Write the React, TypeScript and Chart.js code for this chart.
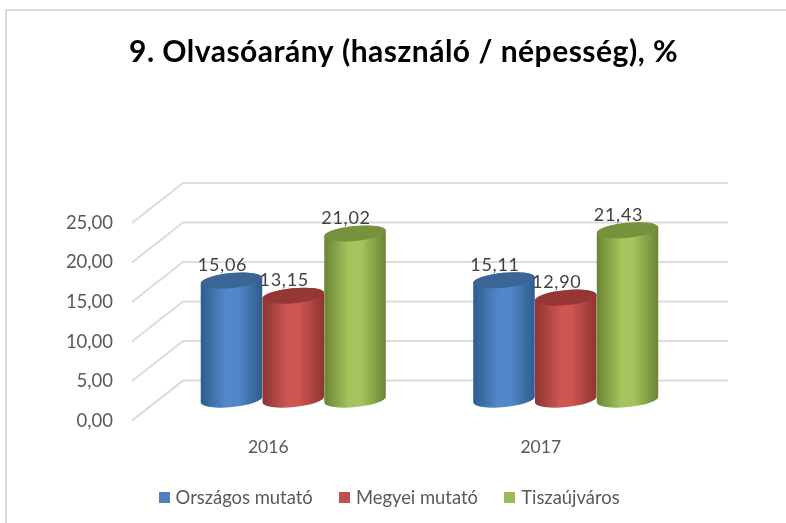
import React, { useEffect, useRef } from "react";
import { Chart, registerables } from "chart.js";

Chart.register(...registerables);

const TITLE = "9. Olvasóarány (használó / népesség), %";
const CATEGORIES = ["2016", "2017"];
const COUNTRY = [15.06, 15.11];
const COUNTY = [13.15, 12.9];
const TOWN = [21.02, 21.43];
const SERIES_NAMES = ["Országos mutató", "Megyei mutató", "Tiszaújváros"];
const SERIES_COLORS = ["#4f81bd", "#c0504d", "#9bbb59"];
const EDGE_COLORS = ["#2f5b8e", "#8c3432", "#6a8433"];
const MID_COLORS = ["#5288ca", "#cd5552", "#a3c55e"];
const TOP_COLORS = ["#3a6595", "#943736", "#76923c"];
const Y_MAX = 25;
const Y_STEP = 5;
const FONT = "Lato, Carlito, Calibri, sans-serif";
const DEPTH_X = 51;
const DEPTH_Y = 40;
const BAR_SHIFT_X = 25;
const BAR_SHIFT_Y = 21;
const TILT = (-5.5 * Math.PI) / 180;
const RY = 7.5;

const fmt = (v: number) => v.toFixed(2).replace(".", ",");

const marker = (color: string) => {
  const c = document.createElement("canvas");
  c.width = 11;
  c.height = 11;
  const g = c.getContext("2d");
  if (g) {
    g.fillStyle = color;
    g.fillRect(0, 0, 11, 11);
  }
  return c;
};

const cylinderPlugin = {
  id: "cylinders",
  afterLayout(chart: any) {
    const lg = chart.legend;
    if (lg) {
      lg.left -= 2;
      lg.right -= 2;
      lg.top -= 6;
      lg.bottom -= 6;
    }
    const tb = chart.titleBlock;
    if (tb) {
      tb.left += 10.5;
      tb.right += 10.5;
      if (!tb.__wrapped) {
        tb.__wrapped = true;
        const d = tb.draw;
        tb.draw = function (this: any) {
          const c = this.ctx;
          c.save();
          c.letterSpacing = "0.5px";
          d.call(this);
          c.restore();
        };
      }
    }
  },
  beforeDraw(chart: any) {
    const { ctx, width, height } = chart;
    ctx.save();
    ctx.fillStyle = "#ffffff";
    ctx.fillRect(0, 0, width, height);
    ctx.strokeStyle = "#d9d9d9";
    ctx.lineWidth = 2;
    ctx.beginPath();
    ctx.moveTo(6, height);
    ctx.lineTo(6, 10);
    ctx.lineTo(width, 10);
    ctx.stroke();
    const { left, right } = chart.chartArea;
    const ys = chart.scales.y;
    ctx.lineWidth = 2;
    ctx.strokeStyle = "#dcdcdc";
    ys.ticks.forEach((t: any) => {
      const y = ys.getPixelForValue(t.value);
      ctx.beginPath();
      ctx.moveTo(left, y);
      ctx.lineTo(left + DEPTH_X, y - DEPTH_Y);
      ctx.lineTo(right + DEPTH_X, y - DEPTH_Y);
      ctx.stroke();
    });
    ctx.restore();
  },
  beforeDatasetsDraw(chart: any) {
    const { ctx } = chart;
    const labels: any[] = [];
    chart.data.datasets.forEach((ds: any, di: number) => {
      chart.getDatasetMeta(di).data.forEach((el: any, i: number) => {
        const { x, y, base, width } = el.getProps(["x", "y", "base", "width"], true);
        const cx = x + BAR_SHIFT_X;
        const rx = width / 2;
        const top = y - BAR_SHIFT_Y;
        const bottom = base - BAR_SHIFT_Y;
        const g = ctx.createLinearGradient(cx - rx, 0, cx + rx, 0);
        g.addColorStop(0, EDGE_COLORS[di]);
        g.addColorStop(0.4, MID_COLORS[di]);
        g.addColorStop(0.6, MID_COLORS[di]);
        g.addColorStop(1, EDGE_COLORS[di]);
        ctx.save();
        ctx.beginPath();
        ctx.ellipse(cx, bottom, rx, RY, TILT, Math.PI, 0, true);
        ctx.ellipse(cx, top, rx, RY, TILT, 0, Math.PI, true);
        ctx.closePath();
        ctx.fillStyle = g;
        ctx.fill();
        ctx.beginPath();
        ctx.ellipse(cx, top, rx, RY, TILT, 0, Math.PI * 2);
        ctx.fillStyle = TOP_COLORS[di];
        ctx.fill();
        ctx.restore();
        labels.push({ text: fmt(ds.data[i]), x: cx - 9, y: top - 15 });
      });
    });
    ctx.save();
    ctx.font = `18px ${FONT}`;
    ctx.letterSpacing = "0.7px";
    ctx.fillStyle = "#404040";
    ctx.textAlign = "center";
    ctx.textBaseline = "middle";
    labels.forEach((l) => ctx.fillText(l.text, l.x, l.y));
    ctx.restore();
    return false;
  },
};

export default function App() {
  const ref = useRef<HTMLCanvasElement | null>(null);
  useEffect(() => {
    if (!ref.current) return;
    const markers = SERIES_COLORS.map(marker);
    const chart = new Chart(ref.current, {
      type: "bar",
      data: {
        labels: CATEGORIES,
        datasets: [COUNTRY, COUNTY, TOWN].map((d, i) => ({
          label: SERIES_NAMES[i],
          data: d,
          backgroundColor: SERIES_COLORS[i],
          categoryPercentage: 0.68,
          barPercentage: 1,
        })),
      },
      plugins: [cylinderPlugin],
      options: {
        responsive: false,
        animation: false,
        layout: { padding: 0 },
        plugins: {
          title: {
            display: true,
            text: TITLE,
            color: "#000000",
            font: { family: FONT, size: 30, weight: "bold" },
            padding: { top: 34.5, bottom: 152.5 },
          },
          legend: {
            position: "bottom",
            labels: {
              font: { family: FONT, size: 18.4 },
              color: "#595959",
              boxWidth: 4,
              boxHeight: 11,
              usePointStyle: true,
              padding: 30,
              generateLabels: (c: any) =>
                (Chart.defaults as any).plugins.legend.labels
                  .generateLabels(c)
                  .map((l: any, i: number) => ({ ...l, pointStyle: markers[i] })),
            },
          },
          tooltip: { enabled: false },
        },
        scales: {
          x: {
            grid: { display: false, drawTicks: false },
            border: { display: false },
            ticks: { color: "#595959", font: { family: FONT, size: 17.5 }, padding: 16 },
            afterFit: (s: any) => {
              s.height = 44;
            },
          },
          y: {
            min: 0,
            max: Y_MAX,
            grid: { display: false, drawTicks: false },
            border: { display: false },
            ticks: {
              stepSize: Y_STEP,
              color: "#595959",
              font: { family: FONT, size: 18.5 },
              padding: 19,
              callback: (v: any) => fmt(Number(v)),
            },
            afterFit: (s: any) => {
              s.width = 132;
            },
          },
          ghost: {
            position: "right",
            grid: { display: false, drawTicks: false },
            border: { display: false },
            ticks: { display: false },
            afterFit: (s: any) => {
              s.width = 109;
            },
          },
        },
      },
    } as any);
    return () => chart.destroy();
  }, []);
  return (
    <div style={{ position: "fixed", left: 0, top: 0, width: 786, height: 523, background: "#fff", overflow: "hidden" }}>
      <canvas ref={ref} width={786} height={523} style={{ display: "block", filter: "blur(0.4px)" }} />
    </div>
  );
}
